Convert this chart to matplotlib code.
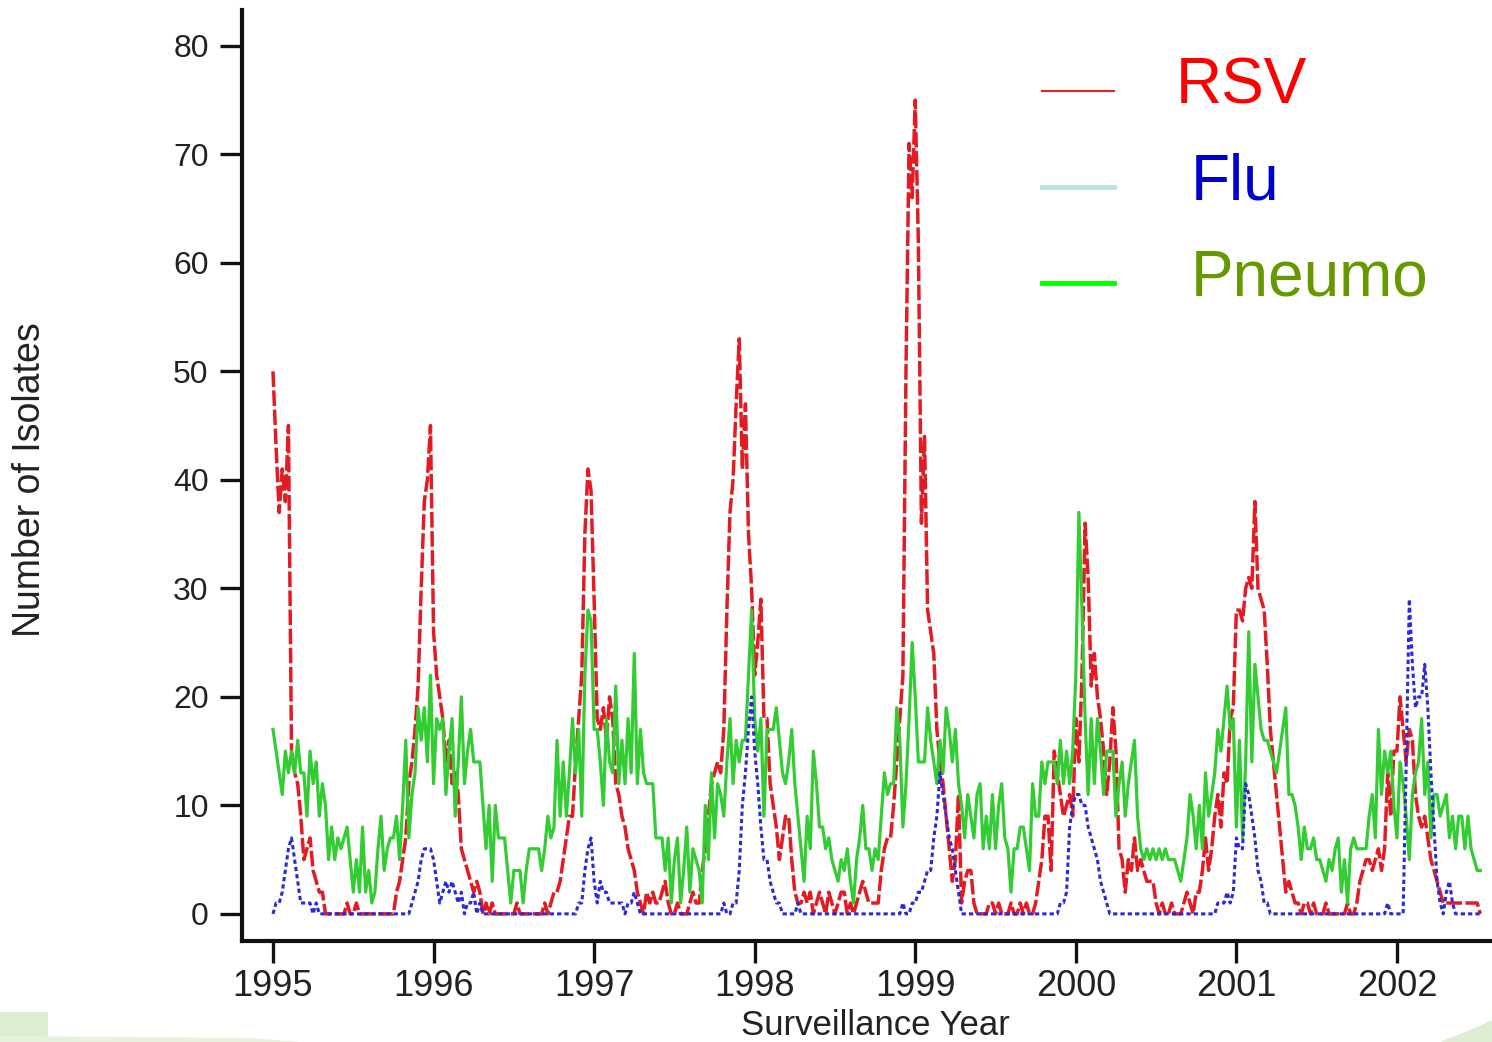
import numpy as np
import matplotlib
matplotlib.use('Agg')
import matplotlib.pyplot as plt
from matplotlib.lines import Line2D
from matplotlib.patches import Polygon

# weekly isolate counts, one list per surveillance year (52 weeks), 2002 is half a year
rsv_1995 = [50, 43, 37, 41, 38, 45, 15, 13, 12, 9, 5, 6, 7,
            4, 3, 2, 2, 0, 0, 0, 0, 0, 0, 0, 1, 0,
            0, 1, 0, 0, 0, 0, 0, 0, 0, 0, 0, 0, 0,
            0, 2, 3, 5, 7, 12, 14, 17, 21, 30, 38, 40, 45]
rsv_1996 = [26, 22, 20, 18, 14, 16, 12, 13, 11, 6, 5, 4, 3,
            2, 3, 2, 0, 1, 0, 1, 0, 0, 0, 0, 0, 0,
            0, 1, 0, 0, 0, 0, 0, 0, 0, 0, 1, 0, 1,
            2, 2, 3, 5, 7, 9, 9, 14, 18, 22, 35, 41, 39]
rsv_1997 = [29, 18, 17, 19, 16, 20, 18, 12, 11, 9, 8, 6, 5,
            4, 2, 1, 0, 2, 1, 2, 1, 1, 2, 3, 1, 0,
            0, 1, 0, 0, 0, 1, 2, 1, 1, 4, 6, 9, 12,
            13, 14, 13, 17, 28, 37, 40, 47, 53, 41, 47, 35, 30]
rsv_1998 = [22, 25, 29, 18, 18, 12, 10, 8, 5, 7, 9, 9, 5,
            2, 1, 1, 2, 1, 2, 0, 1, 2, 1, 0, 2, 1,
            0, 1, 2, 2, 0, 1, 0, 1, 2, 3, 2, 1, 1,
            1, 1, 4, 6, 7, 7, 10, 14, 18, 22, 50, 71, 66]
rsv_1999 = [75, 62, 36, 44, 28, 26, 24, 17, 14, 12, 9, 6, 3,
            5, 11, 1, 3, 4, 4, 1, 0, 0, 0, 0, 1, 1,
            0, 1, 0, 0, 0, 1, 0, 0, 1, 0, 1, 0, 0,
            1, 3, 5, 9, 9, 4, 15, 13, 11, 9, 10, 11, 9]
rsv_2000 = [18, 14, 22, 36, 31, 21, 24, 20, 18, 15, 11, 14, 19,
            15, 6, 5, 2, 5, 4, 7, 4, 5, 4, 3, 3, 3,
            1, 0, 1, 0, 0, 1, 0, 0, 0, 1, 2, 1, 0,
            2, 2, 4, 7, 4, 6, 9, 11, 8, 13, 12, 18, 19]
rsv_2001 = [28, 28, 27, 30, 31, 30, 38, 30, 29, 28, 23, 17, 14,
            11, 8, 5, 2, 3, 2, 1, 1, 0, 1, 1, 0, 1,
            0, 0, 0, 1, 0, 0, 0, 0, 0, 0, 1, 0, 0,
            1, 3, 4, 5, 5, 4, 5, 6, 4, 6, 13, 9, 15]
rsv_2002 = [15, 20, 17, 14, 17, 16, 11, 9, 8, 9, 7, 5, 4, 3,
            2, 1, 1, 1, 1, 1, 1, 1, 1, 1, 1, 1, 1, 0]

flu_1995 = [0, 1, 1, 2, 4, 6, 7, 5, 3, 1, 1, 1, 1,
            0, 1, 0, 0, 0, 0, 0, 0, 0, 0, 0, 0, 0,
            0, 0, 0, 0, 0, 0, 0, 0, 0, 0, 0, 0, 0,
            0, 0, 0, 0, 0, 0, 1, 2, 3, 5, 6, 6, 6]
flu_1996 = [5, 3, 1, 2, 3, 2, 3, 2, 1, 2, 0, 1, 1,
            2, 0, 1, 0, 0, 0, 0, 0, 0, 0, 0, 0, 0,
            0, 0, 0, 0, 0, 0, 0, 0, 0, 0, 0, 0, 0,
            0, 0, 0, 0, 0, 0, 0, 0, 1, 1, 4, 6, 7]
flu_1997 = [3, 1, 3, 2, 2, 1, 1, 1, 1, 1, 0, 1, 1,
            2, 1, 0, 0, 0, 0, 0, 0, 0, 0, 0, 0, 0,
            0, 0, 0, 0, 0, 0, 0, 0, 0, 0, 0, 0, 0,
            0, 0, 0, 1, 0, 0, 1, 1, 4, 10, 13, 17, 20]
flu_1998 = [15, 12, 8, 5, 5, 3, 2, 1, 1, 0, 0, 0, 0,
            0, 1, 0, 0, 0, 0, 0, 0, 0, 0, 0, 0, 0,
            0, 0, 0, 0, 0, 0, 0, 0, 0, 0, 0, 0, 0,
            0, 0, 0, 0, 0, 0, 0, 0, 0, 1, 0, 0, 1]
flu_1999 = [1, 2, 2, 3, 4, 4, 7, 9, 13, 11, 9, 7, 6,
            4, 2, 0, 0, 0, 0, 0, 0, 0, 0, 0, 0, 0,
            0, 0, 0, 0, 0, 0, 0, 0, 0, 0, 0, 0, 0,
            0, 0, 0, 0, 0, 0, 0, 0, 1, 1, 2, 8, 10]
flu_2000 = [11, 11, 10, 10, 8, 7, 6, 5, 3, 2, 1, 0, 0,
            0, 0, 0, 0, 0, 0, 0, 0, 0, 0, 0, 0, 0,
            0, 0, 0, 0, 0, 0, 0, 0, 0, 0, 0, 0, 0,
            0, 0, 0, 0, 0, 0, 0, 1, 1, 1, 2, 1, 2]
flu_2001 = [7, 6, 6, 12, 11, 9, 7, 4, 3, 1, 1, 0, 0,
            0, 0, 0, 0, 0, 0, 0, 0, 0, 0, 0, 0, 0,
            0, 0, 0, 0, 0, 0, 0, 0, 0, 0, 0, 0, 0,
            0, 0, 0, 0, 0, 0, 0, 0, 0, 0, 1, 0, 0]
flu_2002 = [0, 0, 0, 14, 29, 23, 19, 20, 20, 23, 19, 13, 8, 3,
            1, 0, 2, 3, 1, 0, 0, 0, 0, 0, 0, 0, 0, 0]

pneumo_1995 = [17, 15, 13, 11, 15, 13, 15, 13, 16, 13, 13, 9, 15,
               12, 14, 9, 12, 10, 5, 8, 5, 7, 6, 7, 8, 5,
               2, 5, 2, 8, 2, 4, 1, 2, 6, 9, 4, 6, 7,
               7, 9, 5, 10, 16, 7, 11, 13, 19, 16, 19, 14, 22]
pneumo_1996 = [12, 18, 17, 18, 11, 15, 18, 9, 14, 20, 12, 15, 17,
               14, 14, 14, 10, 6, 10, 3, 10, 7, 7, 7, 4, 1,
               4, 4, 4, 1, 4, 6, 6, 6, 6, 4, 6, 9, 7,
               8, 16, 9, 14, 9, 13, 18, 13, 17, 9, 22, 28, 27]
pneumo_1997 = [17, 17, 14, 10, 18, 14, 13, 21, 12, 16, 12, 18, 13,
               24, 12, 17, 13, 12, 12, 12, 7, 7, 7, 4, 7, 1,
               5, 7, 1, 4, 8, 2, 6, 5, 4, 1, 10, 5, 13,
               7, 12, 11, 9, 14, 18, 12, 16, 14, 16, 16, 22, 28]
pneumo_1998 = [18, 15, 18, 9, 17, 17, 17, 19, 16, 13, 12, 14, 17,
               12, 9, 6, 3, 9, 6, 15, 12, 8, 8, 6, 7, 5,
               4, 3, 5, 4, 6, 3, 1, 5, 7, 10, 6, 6, 4,
               6, 5, 9, 13, 11, 12, 12, 19, 16, 8, 12, 18, 25]
pneumo_1999 = [20, 14, 14, 14, 19, 16, 14, 12, 16, 13, 19, 17, 14,
               17, 12, 10, 7, 11, 9, 7, 11, 12, 6, 9, 6, 11,
               6, 10, 12, 7, 6, 2, 6, 6, 8, 8, 6, 4, 12,
               9, 9, 14, 12, 14, 14, 14, 12, 16, 12, 15, 12, 15]
pneumo_2000 = [22, 37, 28, 18, 11, 18, 12, 18, 15, 11, 15, 15, 15,
               9, 12, 14, 9, 12, 14, 16, 9, 6, 5, 6, 5, 6,
               5, 6, 5, 6, 5, 5, 5, 4, 3, 5, 7, 11, 9,
               6, 10, 6, 13, 9, 11, 13, 17, 15, 18, 21, 17, 18]
pneumo_2001 = [8, 16, 7, 14, 26, 14, 23, 20, 17, 16, 16, 15, 14,
               13, 15, 17, 19, 11, 11, 10, 8, 5, 8, 6, 6, 7,
               5, 5, 4, 3, 5, 4, 6, 7, 2, 5, 1, 6, 7,
               6, 6, 6, 6, 9, 11, 7, 17, 11, 15, 13, 15, 10]
pneumo_2002 = [7, 14, 12, 9, 5, 11, 13, 14, 18, 11, 14, 7, 11, 11,
               9, 10, 11, 7, 9, 6, 9, 9, 6, 9, 6, 5, 4, 4]

year_ticks = [1995, 1996, 1997, 1998, 1999, 2000, 2001, 2002]
count_ticks = [0, 10, 20, 30, 40, 50, 60, 70, 80]

rsv = np.array(rsv_1995 + rsv_1996 + rsv_1997 + rsv_1998 + rsv_1999 + rsv_2000 + rsv_2001 + rsv_2002)
flu = np.array(flu_1995 + flu_1996 + flu_1997 + flu_1998 + flu_1999 + flu_2000 + flu_2001 + flu_2002)
pneumo = np.array(pneumo_1995 + pneumo_1996 + pneumo_1997 + pneumo_1998 + pneumo_1999
                  + pneumo_2000 + pneumo_2001 + pneumo_2002)

t = 1995 + np.arange(len(rsv)) / 52.0

plt.rcParams['font.family'] = ['Liberation Sans', 'DejaVu Sans']

fig = plt.figure(figsize=(14.92, 10.42), dpi=100)
ax = fig.add_axes([242 / 1492, 1 - 941 / 1042, 1 - 242 / 1492, (941 - 10) / 1042])

ax.plot(t, rsv, color='#e31b23', lw=2.5, linestyle=(0, (4.5, 1.0)))
ax.plot(t, pneumo, color='#33cc33', lw=2.3)
ax.plot(t, flu, color='#2a2ad8', lw=2.2, linestyle=(0, (1.4, 1.0)))

ax.set_xlim(1994.807, 2002.592)
ax.set_ylim(-2.5, 83.3)
ax.set_xticks(year_ticks)
ax.set_xticklabels([str(y) for y in year_ticks], fontsize=26)
ax.set_yticks(count_ticks)
ax.set_yticklabels([str(c) for c in count_ticks], fontsize=23)
ax.tick_params(axis='both', length=16, width=2.4, color='#111111', labelcolor='#222222')
ax.tick_params(axis='y', pad=8)
ax.tick_params(axis='x', pad=4)
for side in ('top', 'right'):
    ax.spines[side].set_visible(False)
for side in ('left', 'bottom'):
    ax.spines[side].set_linewidth(3)
    ax.spines[side].set_color('#111111')

fig.text(875 / 1492, 1 - 1009 / 1042, 'Surveillance Year', fontsize=25,
         ha='center', va='top', color='#222222')
fig.text(30 / 1492, 1 - 480 / 1042, 'Number of Isolates', fontsize=27,
         rotation=90, ha='center', va='center', color='#222222')

# legend drawn by hand, as in the slide
legend_rows = [('RSV', '#ff0000', '#ee2222', 1.5, 91, 1176),
               ('Flu', '#0000cc', '#bde0e3', 3.5, 187, 1191),
               ('Pneumo', '#669900', '#00ff00', 3.5, 283, 1191)]
for label, tcolor, lcolor, lw, ypix, xtext in legend_rows:
    yf = 1 - ypix / 1042
    fig.add_artist(Line2D([1042 / 1492, 1114 / 1492], [yf, yf], color=lcolor, lw=lw,
                          transform=fig.transFigure))
    fig.text(xtext / 1492, 1 - (ypix - 4) / 1042, label, fontsize=46, color=tcolor,
             ha='left', va='center')

# slide decoration in the bottom corners
fig.add_artist(Polygon([(0, 0), (0, 30 / 1042), (48 / 1492, 30 / 1042), (48 / 1492, 0)],
                       closed=True, transform=fig.transFigure, color='#dcedd2', lw=0))
fig.add_artist(Polygon([(0, 0), (0, 6 / 1042), (250 / 1492, 4 / 1042), (300 / 1492, 0)],
                       closed=True, transform=fig.transFigure, color='#e6f2de', lw=0))
fig.add_artist(Polygon([(1440 / 1492, 0), (1470 / 1492, 12 / 1042), (1, 22 / 1042), (1, 0)],
                       closed=True, transform=fig.transFigure, color='#dcedd2', lw=0))

fig.savefig('out.png', dpi=100)
